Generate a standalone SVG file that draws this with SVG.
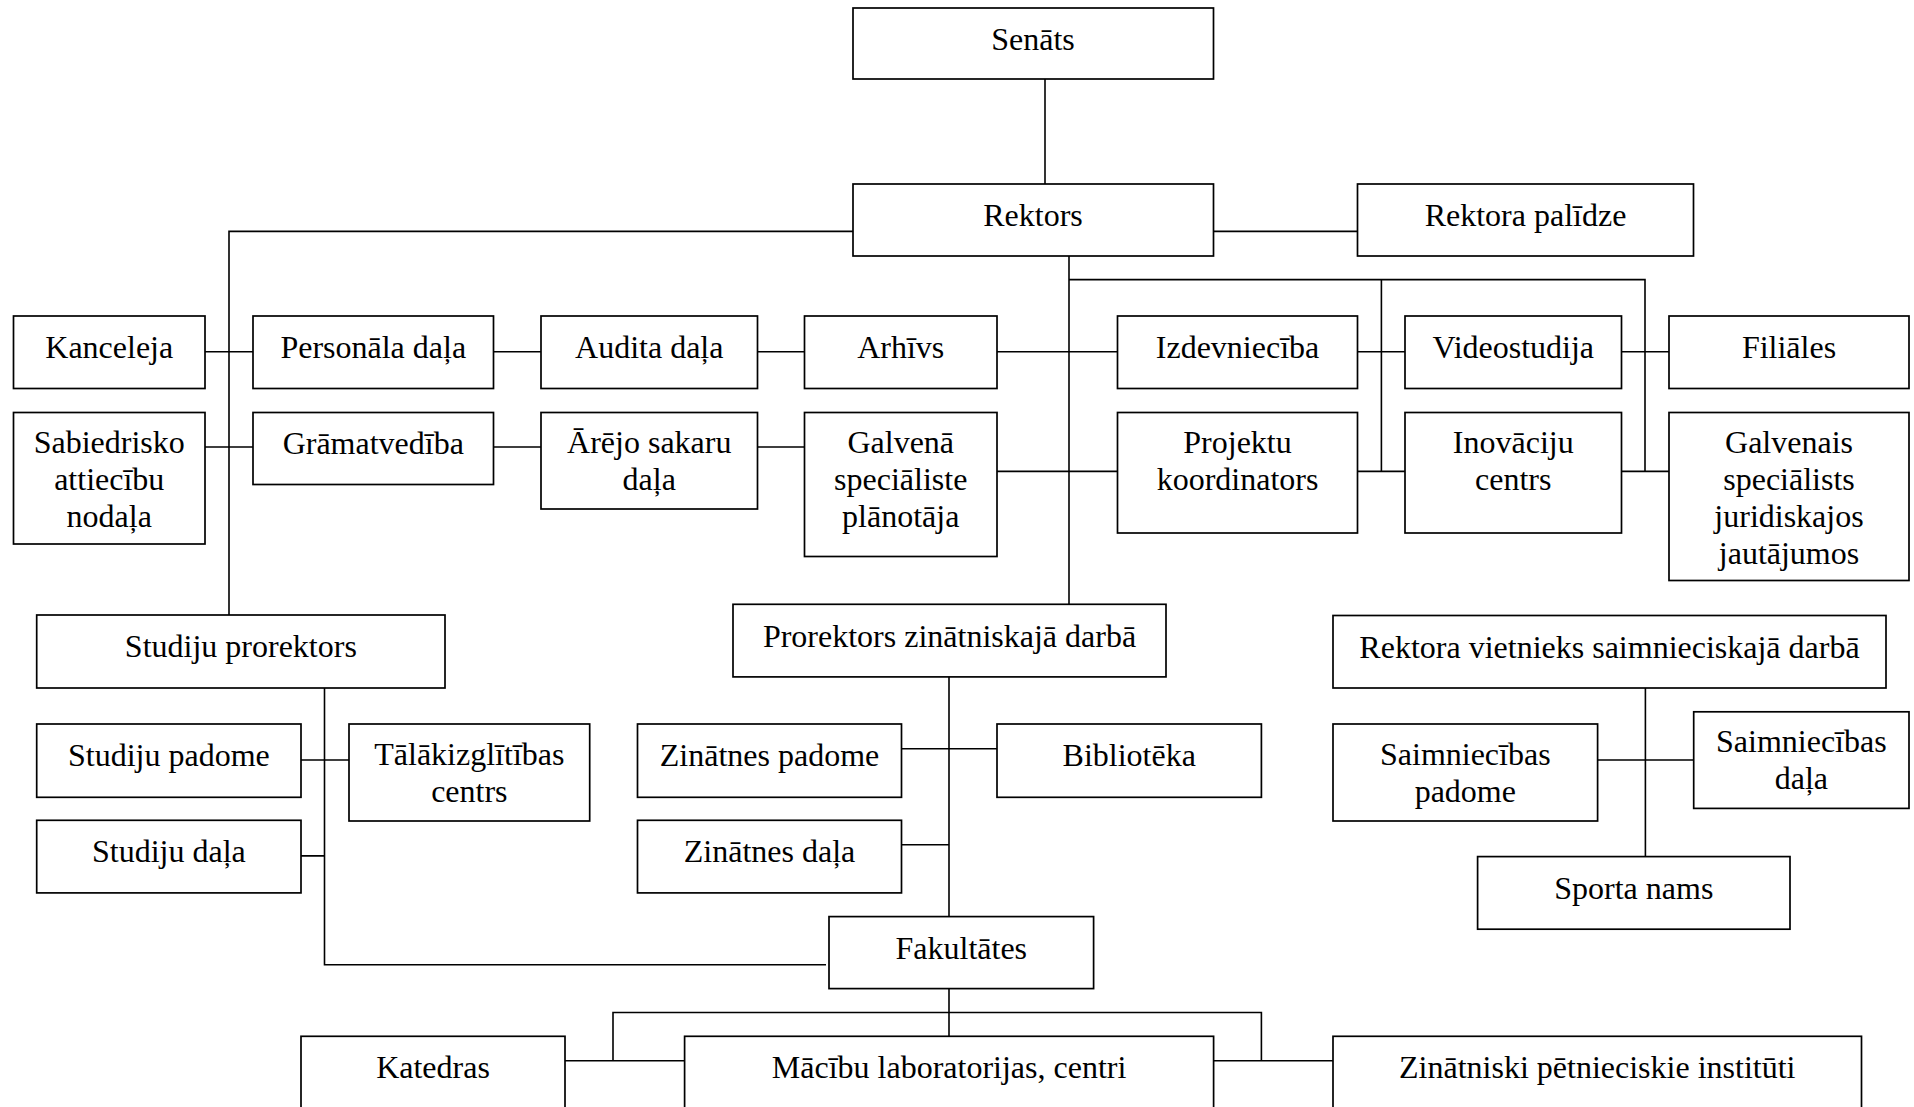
<svg xmlns="http://www.w3.org/2000/svg" width="1914" height="1107" viewBox="0 0 1914 1107">
<style>
.b{fill:#fff;stroke:#000;stroke-width:1.7}
.t{font-family:"Liberation Serif","Times New Roman",serif;font-size:32px;fill:#000;text-anchor:middle}
.c{fill:none;stroke:#000;stroke-width:1.6}
</style>
<rect width="1914" height="1107" fill="#fff"/>
<g id="connectors">
<path class="c" d="M1045,79V184"/>
<path class="c" d="M853,231.4H229V615"/>
<path class="c" d="M1213,231.4H1357.5"/>
<path class="c" d="M1069,256V604.3"/>
<path class="c" d="M1069,279.6H1645V471.4M1381.4,279.6V471.4"/>
<path class="c" d="M205,351.8H253M493.5,351.8H541M757.5,351.8H804.5M997,351.8H1117.5M1357.5,351.8H1405M1621.5,351.8H1669"/>
<path class="c" d="M205,447H253M493.5,447H541M757.5,447H804.5"/>
<path class="c" d="M997,471.4H1117.5M1357.5,471.4H1405M1621.5,471.4H1669"/>
<path class="c" d="M324.5,688V964.7H826M301,760H349M301,855.9H324.5"/>
<path class="c" d="M949,677V1036M901.5,748.8H997M901.5,844.7H949"/>
<path class="c" d="M1645.4,688V856.6M1597.6,760H1693.7"/>
<path class="c" d="M613,1060.7V1012.5H1261.4V1060.7M565,1060.7H684.6M1213.6,1060.7H1333"/>
</g>
<g id="senats"><rect class="b" x="853" y="8" width="360.5" height="71"/><text class="t" x="1033" y="50">Senāts</text></g>
<g id="rektors"><rect class="b" x="853" y="184" width="360.5" height="72"/><text class="t" x="1033" y="226">Rektors</text></g>
<g id="rektora-palidze"><rect class="b" x="1357.5" y="184" width="336" height="72"/><text class="t" x="1525.5" y="226">Rektora palīdze</text></g>
<g id="kanceleja"><rect class="b" x="13.5" y="316" width="191.5" height="72.5"/><text class="t" x="109.25" y="358">Kanceleja</text></g>
<g id="personala"><rect class="b" x="253" y="316" width="240.5" height="72.5"/><text class="t" x="373.25" y="358">Personāla daļa</text></g>
<g id="audita"><rect class="b" x="541" y="316" width="216.5" height="72.5"/><text class="t" x="649.25" y="358">Audita daļa</text></g>
<g id="arhivs"><rect class="b" x="804.5" y="316" width="192.5" height="72.5"/><text class="t" x="900.75" y="358">Arhīvs</text></g>
<g id="izdevnieciba"><rect class="b" x="1117.5" y="316" width="240" height="72.5"/><text class="t" x="1237.5" y="358">Izdevniecība</text></g>
<g id="videostudija"><rect class="b" x="1405" y="316" width="216.5" height="72.5"/><text class="t" x="1513.25" y="358">Videostudija</text></g>
<g id="filiales"><rect class="b" x="1669" y="316" width="240" height="72.5"/><text class="t" x="1789" y="358">Filiāles</text></g>
<g id="sabiedrisko"><rect class="b" x="13.5" y="412.5" width="191.5" height="131.5"/><text class="t" x="109.25" y="453">Sabiedrisko<tspan x="109.25" dy="37">attiecību</tspan><tspan x="109.25" dy="37">nodaļa</tspan></text></g>
<g id="gramatvediba"><rect class="b" x="253" y="412.5" width="240.5" height="72"/><text class="t" x="373.25" y="454">Grāmatvedība</text></g>
<g id="arejo"><rect class="b" x="541" y="412.5" width="216.5" height="96.5"/><text class="t" x="649.25" y="453">Ārējo sakaru<tspan x="649.25" dy="37">daļa</tspan></text></g>
<g id="galvena"><rect class="b" x="804.5" y="412.5" width="192.5" height="144"/><text class="t" x="900.75" y="453">Galvenā<tspan x="900.75" dy="37">speciāliste</tspan><tspan x="900.75" dy="37">plānotāja</tspan></text></g>
<g id="projektu"><rect class="b" x="1117.5" y="412.5" width="240" height="120.5"/><text class="t" x="1237.5" y="453">Projektu<tspan x="1237.5" dy="37">koordinators</tspan></text></g>
<g id="inovaciju"><rect class="b" x="1405" y="412.5" width="216.5" height="120.5"/><text class="t" x="1513.25" y="453">Inovāciju<tspan x="1513.25" dy="37">centrs</tspan></text></g>
<g id="galvenais"><rect class="b" x="1669" y="412.5" width="240" height="168"/><text class="t" x="1789" y="453">Galvenais<tspan x="1789" dy="37">speciālists</tspan><tspan x="1789" dy="37">juridiskajos</tspan><tspan x="1789" dy="37">jautājumos</tspan></text></g>
<g id="studiju-prorektors"><rect class="b" x="36.7" y="615" width="408.3" height="73"/><text class="t" x="240.85" y="657">Studiju prorektors</text></g>
<g id="prorektors-zin"><rect class="b" x="733" y="604.3" width="433" height="72.6"/><text class="t" x="949.5" y="646.5">Prorektors zinātniskajā darbā</text></g>
<g id="rektora-vietnieks"><rect class="b" x="1333" y="615.5" width="553" height="72.5"/><text class="t" x="1609.5" y="657.5">Rektora vietnieks saimnieciskajā darbā</text></g>
<g id="studiju-padome"><rect class="b" x="36.7" y="724" width="264.3" height="73.3"/><text class="t" x="168.85" y="766">Studiju padome</text></g>
<g id="talakizglitibas"><rect class="b" x="349" y="724" width="240.7" height="97"/><text class="t" x="469.35" y="765">Tālākizglītības<tspan x="469.35" dy="37">centrs</tspan></text></g>
<g id="zinatnes-padome"><rect class="b" x="637.5" y="724" width="264" height="73.3"/><text class="t" x="769.5" y="766">Zinātnes padome</text></g>
<g id="biblioteka"><rect class="b" x="997" y="724" width="264.4" height="73.3"/><text class="t" x="1129.2" y="766">Bibliotēka</text></g>
<g id="saimniecibas-padome"><rect class="b" x="1333" y="724" width="264.6" height="97"/><text class="t" x="1465.3" y="765">Saimniecības<tspan x="1465.3" dy="37">padome</tspan></text></g>
<g id="saimniecibas-dala"><rect class="b" x="1693.7" y="711.8" width="215.3" height="96.6"/><text class="t" x="1801.35" y="752">Saimniecības<tspan x="1801.35" dy="37">daļa</tspan></text></g>
<g id="studiju-dala"><rect class="b" x="36.7" y="820.3" width="264.3" height="72.6"/><text class="t" x="168.85" y="862">Studiju daļa</text></g>
<g id="zinatnes-dala"><rect class="b" x="637.5" y="820.3" width="264" height="72.6"/><text class="t" x="769.5" y="862">Zinātnes daļa</text></g>
<g id="sporta-nams"><rect class="b" x="1477.6" y="856.6" width="312.4" height="72.6"/><text class="t" x="1633.8" y="898.5">Sporta nams</text></g>
<g id="fakultates"><rect class="b" x="829" y="916.6" width="264.6" height="72"/><text class="t" x="961.3" y="958.5">Fakultātes</text></g>
<g id="katedras"><rect class="b" x="301" y="1036.3" width="264" height="100"/><text class="t" x="433" y="1077.5">Katedras</text></g>
<g id="macibu"><rect class="b" x="684.6" y="1036.3" width="529" height="100"/><text class="t" x="949.1" y="1077.5">Mācību laboratorijas, centri</text></g>
<g id="zinatniski"><rect class="b" x="1333" y="1036.3" width="528.5" height="100"/><text class="t" x="1597.25" y="1077.5">Zinātniski pētnieciskie institūti</text></g>
</svg>
